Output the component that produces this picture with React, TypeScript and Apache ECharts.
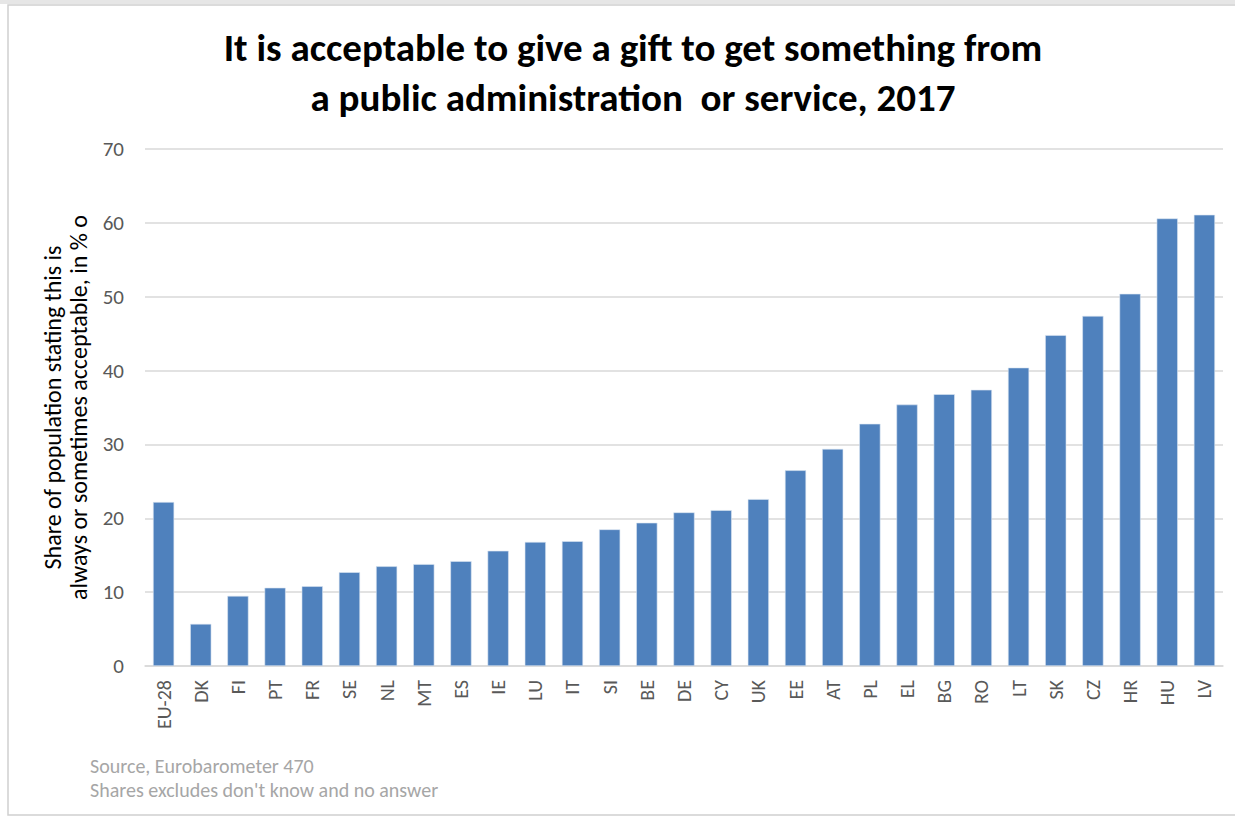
import React, { useEffect, useRef } from "react";
import * as echarts from "echarts";

const categories = ["EU-28", "DK", "FI", "PT", "FR", "SE", "NL", "MT", "ES", "IE", "LU", "IT", "SI", "BE", "DE", "CY", "UK", "EE", "AT", "PL", "EL", "BG", "RO", "LT", "SK", "CZ", "HR", "HU", "LV"];
const shares = [22.2, 5.7, 9.5, 10.6, 10.8, 12.7, 13.5, 13.8, 14.2, 15.6, 16.8, 16.9, 18.5, 19.4, 20.8, 21.1, 22.6, 26.5, 29.4, 32.8, 35.4, 36.8, 37.4, 40.4, 44.8, 47.4, 50.4, 60.6, 61.1];
const yTicks = { min: 0, max: 70, interval: 10 };
const titleLines = ["It is acceptable to give a gift to get something from", "a public administration  or service, 2017"];
const yAxisName = "Share of population stating this is\nalways or sometimes acceptable, in % o";
const footnotes = ["Source, Eurobarometer 470", "Shares excludes don't know and no answer"];

const FONT = "Carlito, Calibri, 'Open Sans', sans-serif";

export default function App() {
  const ref = useRef<HTMLDivElement>(null);
  useEffect(() => {
    if (!ref.current) return;
    const chart = echarts.init(ref.current, null, { renderer: "svg" });
    chart.setOption({
      animation: false,
      backgroundColor: "#ffffff",
      textStyle: { fontFamily: FONT },
      title: {
        text: titleLines.join("\n"),
        left: 628,
        textAlign: "center",
        top: 17,
        textStyle: { fontSize: 39, fontWeight: "bold", color: "#000000", lineHeight: 50, fontFamily: FONT },
      },
      grid: { left: 145, right: 12, top: 149, bottom: 151, containLabel: false },
      xAxis: {
        type: "category",
        data: categories,
        axisLine: { show: true, lineStyle: { color: "#d9d9d9", width: 1.5 } },
        axisTick: { show: false },
        axisLabel: { rotate: 90, color: "#595959", fontSize: 20, margin: 14, interval: 0, fontFamily: FONT },
      },
      yAxis: {
        type: "value",
        min: yTicks.min,
        max: yTicks.max,
        interval: yTicks.interval,
        name: yAxisName,
        nameLocation: "middle",
        nameRotate: 90,
        nameGap: 50,
        nameTextStyle: { color: "#000000", fontSize: 24, lineHeight: 26, fontFamily: FONT },
        axisLine: { show: false },
        axisTick: { show: false },
        axisLabel: { color: "#595959", fontSize: 21, margin: 21, fontFamily: FONT },
        splitLine: { lineStyle: { color: "#d9d9d9", width: 1.5 } },
      },
      series: [
        {
          type: "bar",
          data: shares,
          barCategoryGap: "43%",
          itemStyle: { color: "#4f81bd", borderColor: "#dbe5f1", borderWidth: 0.6 },
        },
      ],
      graphic: [
        {
          type: "rect",
          shape: { x: 8, y: 5, width: 1240, height: 810 },
          style: { fill: "none", stroke: "#d0d0d0", lineWidth: 1.5 },
          silent: true,
        },
        {
          type: "rect",
          shape: { x: 0, y: 0, width: 1235, height: 4 },
          style: { fill: "#e6e6e6" },
          silent: true,
        },
        {
          type: "text",
          left: 90,
          top: 754,
          style: { text: footnotes.join("\n"), fill: "#a6a6a6", fontSize: 20, lineHeight: 24, fontFamily: FONT },
        },
      ],
    });
    return () => chart.dispose();
  }, []);
  return <div ref={ref} style={{ position: "fixed", left: 0, top: 0, width: 1235, height: 817 }} />;
}
